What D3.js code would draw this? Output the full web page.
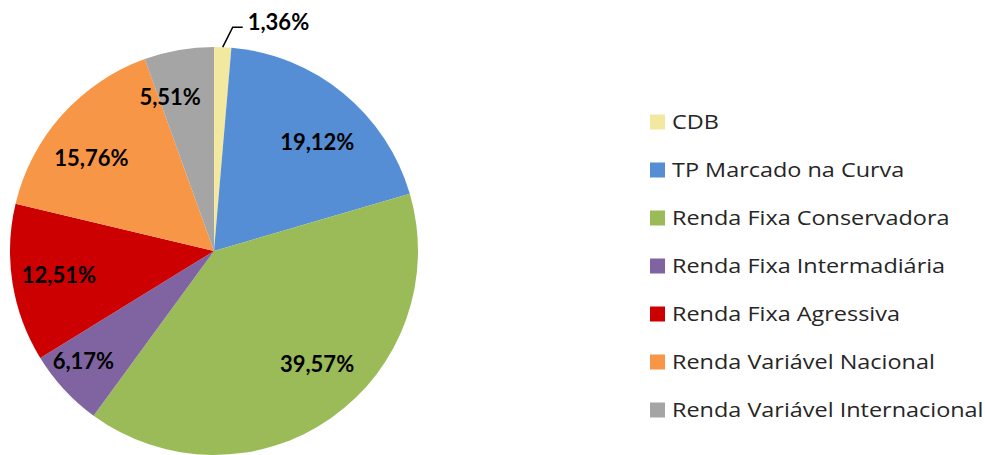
<!DOCTYPE html>
<html>
<head>
<meta charset="utf-8">
<script src="https://cdn.jsdelivr.net/npm/d3@7"></script>
<style>
    body { margin: 0; background: #fff; }
    svg { display: block; }
    .slice-label { font-family: Lato, "Open Sans", sans-serif; font-weight: bold; font-size: 22px; fill: #000; }
    .legend text { font-family: "Open Sans", Lato, sans-serif; font-size: 20.5px; fill: #262626; }
</style>
</head>
<body>
<svg width="985" height="455"></svg>
<script>
// Categories and their shares (%)
var categories = ['CDB', 'TP Marcado na Curva', 'Renda Fixa Conservadora', 'Renda Fixa Intermadiária',
    'Renda Fixa Agressiva', 'Renda Variável Nacional', 'Renda Variável Internacional'];
var values = [1.36, 19.12, 39.57, 6.17, 12.51, 15.76, 5.51];
var colors = ['#f2e8a0', '#558ed5', '#9bbb59', '#8064a2', '#cc0000', '#f79646', '#a5a5a5'];

var svg = d3.select('svg');

var cx = 214, cy = 251, radius = 204;

// Label placement tweaks (angle shift in degrees, distance from centre) - mimics Excel best fit
var labelPlace = [[0, 0], [4.2, 150], [-7.3, 153], [2.5, 171], [0.3, 157], [-4.6, 154], [-6, 160]];

// Legend text is drawn a bit wider than the font's natural width
var legendStretch = 1.143;

var data = categories.map(function(c, i) {
    return {name: c, value: values[i], color: colors[i]};
});

var pie = d3.pie()
    .sort(null)
    .value(function(d) { return d.value; });

var arc = d3.arc().innerRadius(0).outerRadius(radius);

var formatPct = function(v) { return v.toFixed(2).replace('.', ',') + '%'; };

var pieG = svg.append('g')
    .attr('transform', 'translate(' + [cx, cy] + ')');

var arcs = pie(data);

pieG.selectAll('path')
    .data(arcs)
    .enter()
    .append('path')
    .attr('d', arc)
    .attr('fill', function(d) { return d.data.color; });

// Labels inside the slices (small slice gets a leader line)
arcs.forEach(function(d, i) {
    var mid = (d.startAngle + d.endAngle) / 2;
    if (d.data.value < 2) {
        var p0 = [Math.sin(mid) * radius, -Math.cos(mid) * radius];
        var p1 = [p0[0] + 10, p0[1] - 20];
        var p2 = [p1[0] + 10, p1[1]];
        pieG.append('polyline')
            .attr('points', [p0, p1, p2].join(' '))
            .attr('fill', 'none')
            .attr('stroke', '#000')
            .attr('stroke-width', 1.5);
        pieG.append('text')
            .attr('class', 'slice-label')
            .attr('x', p2[0] + 5)
            .attr('y', p2[1] - 5)
            .attr('dy', '0.35em')
            .text(formatPct(d.data.value));
    } else {
        var a = mid + labelPlace[i][0] * Math.PI / 180;
        var r = labelPlace[i][1];
        pieG.append('text')
            .attr('class', 'slice-label')
            .attr('x', Math.sin(a) * r)
            .attr('y', -Math.cos(a) * r)
            .attr('dy', '0.35em')
            .attr('text-anchor', 'middle')
            .text(formatPct(d.data.value));
    }
});

// Legend
var legendY = d3.scalePoint()
    .domain(categories)
    .range([122, 410]);

var legend = svg.append('g')
    .attr('class', 'legend')
    .selectAll('g')
    .data(data)
    .enter()
    .append('g')
    .attr('transform', function(d) { return 'translate(' + [650, legendY(d.name)] + ')'; });

legend.append('rect')
    .attr('y', -7.5)
    .attr('width', 15)
    .attr('height', 15)
    .attr('fill', function(d) { return d.color; });

legend.append('text')
    .attr('transform', 'translate(22,0) scale(' + legendStretch + ',1)')
    .attr('dy', '0.36em')
    .text(function(d) { return d.name; });
</script>
</body>
</html>
